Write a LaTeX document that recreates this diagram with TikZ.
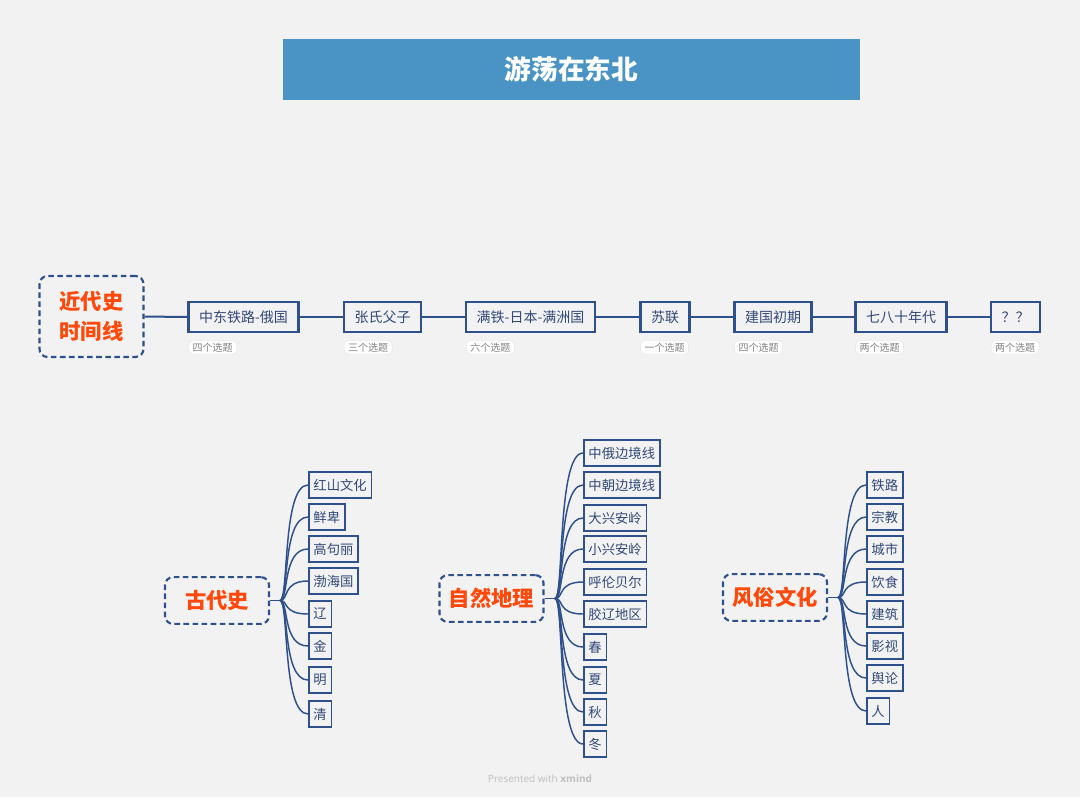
\documentclass[tikz,border=0pt]{standalone}
\usepackage{fontspec}
\usepackage{tikz}
\usetikzlibrary{calc}
\newfontfamily\cjk{Noto Sans CJK SC}
\newfontfamily\latn{Open Sans}
\definecolor{BgGrey} {RGB}{242,242,242}
\definecolor{TitFill}{RGB}{74,148,197}
\definecolor{LnBlue} {RGB}{46,80,140}
\definecolor{TxtBlue}{RGB}{50,72,120}
\definecolor{RootRed}{RGB}{255,72,10}
\definecolor{TagLine}{RGB}{228,228,228}
\definecolor{TagTxt} {RGB}{130,130,130}
\definecolor{FootGry}{RGB}{190,190,190}
\tikzset{
  nd_title/.style={rectangle,fill=TitFill,text=white,minimum width=432.75pt,minimum height=45.75pt,font=\cjk\bfseries\fontsize{20}{24}\selectfont},
  nd_root/.style={rectangle,rounded corners=6pt,draw=LnBlue,line width=1.6pt,dash pattern=on 4.2pt off 2.6pt,fill=BgGrey,align=center,minimum width=78pt,text=RootRed,font=\cjk\bfseries\fontsize{16}{23}\selectfont},
  nd_tl/.style={rectangle,draw=LnBlue,line width=1.8pt,fill=BgGrey,minimum height=22.5pt,inner xsep=8pt,text=TxtBlue,font=\cjk\fontsize{10.5}{12}\selectfont},
  nd_tag/.style={rectangle,rounded corners=3pt,fill=white,draw=TagLine,line width=0.3pt,inner xsep=3pt,inner ysep=1.5pt,anchor=north west,text=TagTxt,font=\cjk\fontsize{7.5}{8}\selectfont},
  nd_leaf/.style={rectangle,draw=LnBlue,line width=1.2pt,fill=BgGrey,minimum height=19.5pt,inner xsep=3.5pt,anchor=west,text=TxtBlue,font=\cjk\fontsize{10}{12}\selectfont},
  ln/.style={draw=LnBlue,line width=1.5pt},
  br/.style={draw=LnBlue,line width=1.1pt},
}

\begin{document}
\begin{tikzpicture}[x=0.75pt,y=-0.75pt]
\fill[BgGrey](0,0) rectangle (1080,797);
\node[nd_title] at (571.5,69.5)(T){游荡在东北};
% timeline
\node[nd_root,minimum height=60.75pt] at (91.5,316.5)(R0){近代史\\时间线};
\node[nd_tl] at (243.5,317)(t1){中东铁路-俄国};
\node[nd_tl] at (382.5,317)(t2){张氏父子};
\node[nd_tl] at (530.5,317)(t3){满铁-日本-满洲国};
\node[nd_tl] at (665,317)(t4){苏联};
\node[nd_tl] at (773,317)(t5){建国初期};
\node[nd_tl] at (901,317)(t6){七八十年代};
\node[nd_tl] at (1015.5,317)(t7){？？};
\draw[ln](R0)--(t1);
\foreach \a/\b in {t1/t2,t2/t3,t3/t4,t4/t5,t5/t6,t6/t7}{\draw[ln](\a)--(\b);}
\foreach \n/\t in {t1/四个选题,t2/三个选题,t3/六个选题,t4/一个选题,t5/四个选题,t6/两个选题,t7/两个选题}{
  \node[nd_tag] at ([xshift=1pt,yshift=-5.5pt]\n.south west)(g\n){\t};}
% Col A
\node[nd_root,minimum height=35pt] at (217,600.5)(RA){古代史};
\coordinate (hA) at (280,600.5);
\draw[br](RA)--(hA);
\foreach \i/\y/\t in {1/485/红山文化,2/517/鲜卑,3/549/高句丽,4/581/渤海国,5/614/辽,6/646/金,7/680/明,8/714/清}{
  \node[nd_leaf] at (308,\y)(A\i){\t};
  \draw[br](hA) .. controls ($(hA)+(9,0)$) and ($(hA |- A\i.west)+(2,0)$) .. (A\i.west);}
% Col B
\node[nd_root,minimum height=35pt] at (491.5,598.5)(RB){自然地理};
\coordinate (hB) at (555,598.5);
\draw[br](RB)--(hB);
\foreach \i/\y/\t in {1/453/中俄边境线,2/485/中朝边境线,3/518/大兴安岭,4/549/小兴安岭,5/582/呼伦贝尔,6/614/胶辽地区,7/647/春,8/680/夏,9/712/秋,10/744/冬}{
  \node[nd_leaf] at (583,\y)(B\i){\t};
  \draw[br](hB) .. controls ($(hB)+(9,0)$) and ($(hB |- B\i.west)+(2,0)$) .. (B\i.west);}
% Col C
\node[nd_root,minimum height=35pt] at (775,597.5)(RC){风俗文化};
\coordinate (hC) at (838,597.5);
\draw[br](RC)--(hC);
\foreach \i/\y/\t in {1/485/铁路,2/517/宗教,3/549/城市,4/582/饮食,5/614/建筑,6/646/影视,7/678/舆论,8/711/人}{
  \node[nd_leaf] at (866,\y)(C\i){\t};
  \draw[br](hC) .. controls ($(hC)+(9,0)$) and ($(hC |- C\i.west)+(2,0)$) .. (C\i.west);}
\node[text=FootGry,font=\latn\fontsize{7.5}{9}\selectfont] at (540,779)(F){Presented with \textbf{xmind}};
\end{tikzpicture}
\end{document}
